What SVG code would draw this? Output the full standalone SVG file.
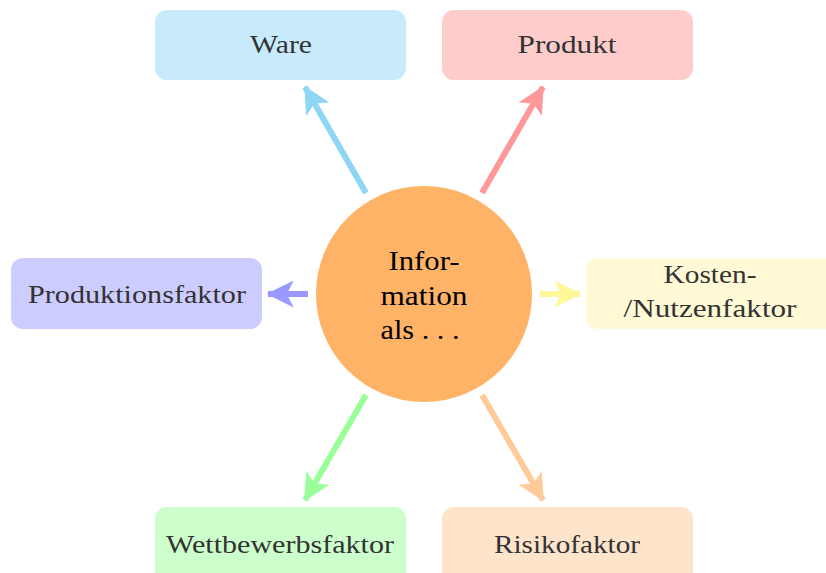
<svg xmlns="http://www.w3.org/2000/svg" width="826" height="573" viewBox="0 0 826 573">
<defs>
<style>
.lbl{font-family:"Liberation Serif","DejaVu Serif",serif;font-size:25px;fill:#333;text-anchor:middle}
.ctr{font-family:"Liberation Serif","DejaVu Serif",serif;font-size:27px;fill:#000;text-anchor:middle}
.con{stroke-width:6;fill:none}
</style>
<marker id="ab" viewBox="0 0 10 10" refX="9.5" refY="5" markerWidth="4.5" markerHeight="4.5" orient="auto" markerUnits="strokeWidth"><path d="M0,0 L10,5 L0,10 L2.5,5 Z" fill="#8dd6f5"/></marker>
<marker id="ar" viewBox="0 0 10 10" refX="9.5" refY="5" markerWidth="4.5" markerHeight="4.5" orient="auto" markerUnits="strokeWidth"><path d="M0,0 L10,5 L0,10 L2.5,5 Z" fill="#ff9999"/></marker>
<marker id="ap" viewBox="0 0 10 10" refX="9.5" refY="5" markerWidth="4.5" markerHeight="4.5" orient="auto" markerUnits="strokeWidth"><path d="M0,0 L10,5 L0,10 L2.5,5 Z" fill="#9999ff"/></marker>
<marker id="ay" viewBox="0 0 10 10" refX="9.5" refY="5" markerWidth="4.5" markerHeight="4.5" orient="auto" markerUnits="strokeWidth"><path d="M0,0 L10,5 L0,10 L2.5,5 Z" fill="#fff799"/></marker>
<marker id="ag" viewBox="0 0 10 10" refX="9.5" refY="5" markerWidth="4.5" markerHeight="4.5" orient="auto" markerUnits="strokeWidth"><path d="M0,0 L10,5 L0,10 L2.5,5 Z" fill="#99ff99"/></marker>
<marker id="ao" viewBox="0 0 10 10" refX="9.5" refY="5" markerWidth="4.5" markerHeight="4.5" orient="auto" markerUnits="strokeWidth"><path d="M0,0 L10,5 L0,10 L2.5,5 Z" fill="#ffcc99"/></marker>
</defs>
<g id="connectors">
<line class="con" x1="366" y1="193" x2="305" y2="87" stroke="#8dd6f5" marker-end="url(#ab)"/>
<line class="con" x1="482" y1="193" x2="543" y2="87" stroke="#ff9999" marker-end="url(#ar)"/>
<line class="con" x1="308" y1="294" x2="268" y2="294" stroke="#9999ff" marker-end="url(#ap)"/>
<line class="con" x1="540" y1="294" x2="580" y2="294" stroke="#fff799" marker-end="url(#ay)"/>
<line class="con" x1="366" y1="395" x2="305" y2="500" stroke="#99ff99" marker-end="url(#ag)"/>
<line class="con" x1="482" y1="395" x2="543" y2="500" stroke="#ffcc99" marker-end="url(#ao)"/>
</g>
<g id="center">
<circle cx="424" cy="294" r="108" fill="#ffb366"/>
<text class="ctr" x="424" y="270" textLength="71" lengthAdjust="spacingAndGlyphs">Infor-</text>
<text class="ctr" x="424" y="305" textLength="87" lengthAdjust="spacingAndGlyphs">mation</text>
<text class="ctr" x="420" y="339" textLength="79" lengthAdjust="spacingAndGlyphs">als . . .</text>
</g>
<g id="ware">
<rect x="155" y="10" width="251" height="70" rx="12" fill="#c7ebfa"/>
<text class="lbl" x="281" y="53" textLength="62" lengthAdjust="spacingAndGlyphs">Ware</text>
</g>
<g id="produkt">
<rect x="442" y="10" width="251" height="70" rx="12" fill="#ffcccc"/>
<text class="lbl" x="567" y="53" textLength="99" lengthAdjust="spacingAndGlyphs">Produkt</text>
</g>
<g id="produktionsfaktor">
<rect x="11" y="258" width="251" height="71" rx="12" fill="#ccccff"/>
<text class="lbl" x="137" y="303" textLength="218" lengthAdjust="spacingAndGlyphs">Produktionsfaktor</text>
</g>
<g id="kosten">
<rect x="586" y="258" width="260" height="71" rx="12" fill="#fff9d6"/>
<text class="lbl" x="710" y="283" textLength="93" lengthAdjust="spacingAndGlyphs">Kosten-</text>
<text class="lbl" x="710" y="317" textLength="173" lengthAdjust="spacingAndGlyphs">/Nutzenfaktor</text>
</g>
<g id="wettbewerbsfaktor">
<rect x="155" y="507" width="251" height="80" rx="12" fill="#ccffcc"/>
<text class="lbl" x="280" y="553" textLength="228" lengthAdjust="spacingAndGlyphs">Wettbewerbsfaktor</text>
</g>
<g id="risikofaktor">
<rect x="442" y="507" width="251" height="80" rx="12" fill="#ffe4cc"/>
<text class="lbl" x="567" y="553" textLength="146" lengthAdjust="spacingAndGlyphs">Risikofaktor</text>
</g>
</svg>
